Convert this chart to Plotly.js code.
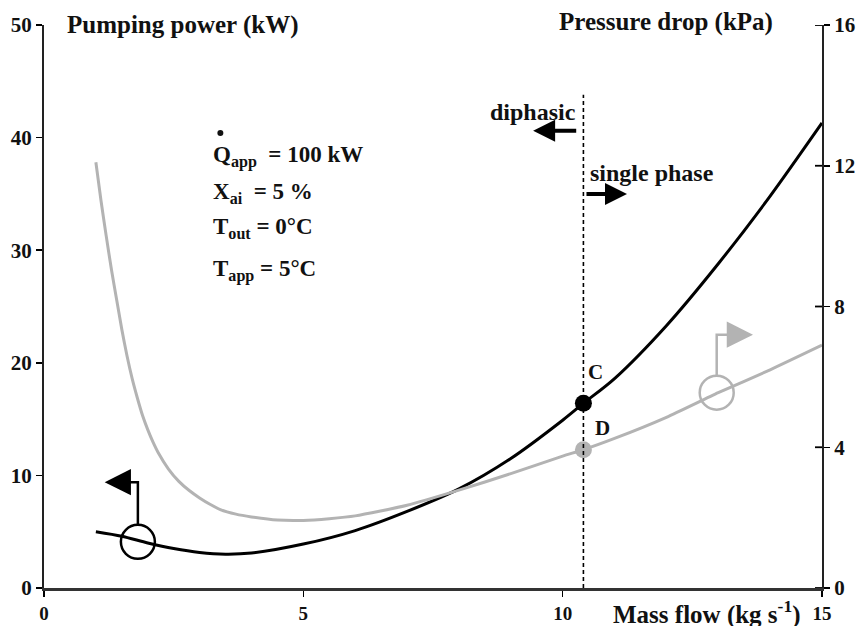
<!DOCTYPE html>
<html>
<head>
<meta charset="utf-8">
<script src="https://cdn.plot.ly/plotly-3.0.1.min.js"></script>
<style>html,body{margin:0;padding:0;background:#fff;}#chart{width:860px;height:626px;}</style>
</head>
<body>
<div id="chart"></div>
<script>
// Pumping power (kW), left axis
const flowPower = [1.0, 1.5, 2.0, 2.5, 3.0, 3.5, 4.0, 5.0, 6.0, 7.0, 8.0, 9.0, 10.0, 10.4, 11.0, 12.0, 13.0, 14.0, 15.0];
const pumpingPower = [5.0, 4.6, 4.0, 3.5, 3.15, 3.0, 3.1, 3.9, 5.1, 6.8, 8.8, 11.5, 14.9, 16.4, 18.6, 23.3, 28.8, 34.8, 41.3];
// Pressure drop (kPa), right axis
const flowDrop = [1.0, 1.1, 1.2, 1.3, 1.4, 1.5, 1.6, 1.7, 1.8, 1.9, 2.0, 2.1, 2.2, 2.4, 2.6, 2.8, 3.0, 3.2, 3.4, 3.7, 4.0, 4.5, 5.0, 5.5, 6.0, 7.0, 8.0, 9.0, 10.0, 10.4, 11.0, 12.0, 13.0, 14.0, 15.0];
const pressureDrop = [12.1, 11.0, 10.0, 9.05, 8.2, 7.35, 6.6, 5.95, 5.4, 4.9, 4.5, 4.15, 3.85, 3.38, 3.03, 2.77, 2.56, 2.38, 2.23, 2.1, 2.02, 1.93, 1.92, 1.97, 2.05, 2.35, 2.78, 3.25, 3.75, 3.93, 4.25, 4.85, 5.55, 6.2, 6.9];
// Transition point
const transitionFlow = 10.4;
const pointC = 16.4;
const pointD = 3.93;
const xTicks = [0, 5, 10, 15];
const yTicks = [0, 10, 20, 30, 40, 50];
const y2Ticks = [0, 4, 8, 12, 16];

const serif = 'Liberation Serif, Times New Roman, serif';
const boldFont = (s, c) => ({family: serif, size: s, color: c || '#111', weight: 'bold'});

const traces = [
  {x: flowPower, y: pumpingPower, type: 'scatter', mode: 'lines', line: {color: '#000', width: 3, shape: 'spline', smoothing: 0.8}, hoverinfo: 'skip', yaxis: 'y'},
  {x: flowDrop, y: pressureDrop, type: 'scatter', mode: 'lines', line: {color: '#b3b3b3', width: 3, shape: 'spline', smoothing: 0.6}, hoverinfo: 'skip', yaxis: 'y2'},
  {x: [transitionFlow], y: [pointC], type: 'scatter', mode: 'markers', marker: {color: '#000', size: 17}, yaxis: 'y'},
  {x: [transitionFlow], y: [pointD], type: 'scatter', mode: 'markers', marker: {color: '#b3b3b3', size: 17}, yaxis: 'y2'}
];

const ann = [];
function txt(text, x, y, xanchor, size, extra) {
  ann.push(Object.assign({text: text, x: x, y: y, xref: 'x', yref: 'y', xanchor: xanchor, yanchor: 'middle', showarrow: false, font: boldFont(size)}, extra || {}));
}
// axis titles
ann.push({text: 'Pumping power (kW)', xref: 'paper', yref: 'paper', x: 0.027, y: 1.0, xanchor: 'left', yanchor: 'middle', showarrow: false, font: boldFont(25)});
ann.push({text: 'Pressure drop (kPa)', xref: 'paper', yref: 'paper', x: 0.94, y: 1.005, xanchor: 'right', yanchor: 'middle', showarrow: false, font: boldFont(25)});
ann.push({text: 'Mass flow (kg s<sup>-1</sup>)', xref: 'paper', yref: 'paper', x: 0.975, y: -0.043, xanchor: 'right', yanchor: 'middle', showarrow: false, font: boldFont(25)});
// parameter block
txt('Q<sub>app</sub>  = 100 kW', 3.22, 38.3, 'left', 23);
txt('X<sub>ai</sub>  = 5 %', 3.22, 35.1, 'left', 23);
txt('T<sub>out</sub> = 0°C', 3.22, 32.0, 'left', 23);
txt('T<sub>app</sub> = 5°C', 3.22, 28.2, 'left', 23);
// regime labels
txt('diphasic', 10.29, 42.3, 'right', 24);
txt('single phase', 10.49, 36.9, 'left', 24);
txt('C', 10.64, 19.2, 'center', 21);
txt('D', 10.76, 14.2, 'center', 21);
// arrows
function arrow(x0, y0, x1, y1, yref, color, w, s) {
  ann.push({text: '', x: x1, y: y1, ax: x0, ay: y0, xref: 'x', yref: yref, axref: 'x', ayref: yref, showarrow: true, arrowhead: 2, arrowsize: s, arrowwidth: w, arrowcolor: color, standoff: 0, startstandoff: 0});
}
arrow(10.29, 40.6, 9.43, 40.6, 'y', '#000', 4, 1.1);
arrow(10.43, 35.0, 11.24, 35.0, 'y', '#000', 4, 1.1);
arrow(1.56, 9.4, 1.17, 9.4, 'y', '#000', 2.5, 2.1);
arrow(13.25, 7.2, 13.67, 7.2, 'y2', '#b3b3b3', 2.5, 2.1);

const shapes = [
  {type: 'line', xref: 'x', yref: 'y', x0: transitionFlow, x1: transitionFlow, y0: 0, y1: 43.8, line: {color: '#000', width: 1.6, dash: '4px,3px'}},
  // dot over Q (flow-rate notation)
  {type: 'circle', xref: 'x', yref: 'y', xsizemode: 'pixel', ysizemode: 'pixel', xanchor: 3.4, yanchor: 40.4, x0: -3, x1: 3, y0: -3, y1: 3, fillcolor: '#111', line: {color: '#111', width: 0}},
  {type: 'circle', xref: 'x', yref: 'y', xsizemode: 'pixel', ysizemode: 'pixel', xanchor: 1.81, yanchor: 4.1, x0: -17, x1: 17, y0: -17, y1: 17, line: {color: '#000', width: 2.5}},
  {type: 'path', xref: 'x', yref: 'y', path: 'M 1.81 5.6 L 1.81 9.4 L 1.5 9.4', line: {color: '#000', width: 2.5}},
  {type: 'circle', xref: 'x', yref: 'y2', xsizemode: 'pixel', ysizemode: 'pixel', xanchor: 12.97, yanchor: 5.55, x0: -17, x1: 17, y0: -17, y1: 17, line: {color: '#b3b3b3', width: 2.5}},
  {type: 'path', xref: 'x', yref: 'y2', path: 'M 12.97 6.03 L 12.97 7.2 L 13.3 7.2', line: {color: '#b3b3b3', width: 2.5}}
];
// inner half of the crossing tick marks on the right axis
y2Ticks.forEach(t => shapes.push({type: 'line', xref: 'paper', yref: 'y2', xsizemode: 'pixel', xanchor: 1, x0: -7, x1: 0, y0: t, y1: t, line: {color: '#000', width: 1.8}}));

const layout = {
  width: 860, height: 626,
  margin: {l: 44, r: 38, t: 25, b: 38},
  paper_bgcolor: '#fff', plot_bgcolor: '#fff',
  showlegend: false,
  xaxis: {range: [0, 15], tickvals: xTicks, ticks: 'outside', ticklen: 6, tickwidth: 1.5, tickcolor: '#000',
          showline: true, linecolor: '#333', linewidth: 3, showgrid: false, zeroline: false, tickfont: boldFont(19), fixedrange: true},
  yaxis: {range: [0, 50], tickvals: yTicks, ticks: 'outside', ticklen: 6, tickwidth: 1.5, tickcolor: '#000',
          showline: true, linecolor: '#222', linewidth: 2, showgrid: false, zeroline: false, tickfont: boldFont(21), fixedrange: true},
  yaxis2: {range: [0, 16], tickvals: y2Ticks, overlaying: 'y', side: 'right', ticks: 'outside', ticklen: 6, tickwidth: 1.5, tickcolor: '#000',
          showline: true, linecolor: '#222', linewidth: 2, showgrid: false, zeroline: false, tickfont: boldFont(21), fixedrange: true},
  annotations: ann,
  shapes: shapes
};

Plotly.newPlot('chart', traces, layout, {staticPlot: true, displayModeBar: false});
</script>
</body>
</html>
